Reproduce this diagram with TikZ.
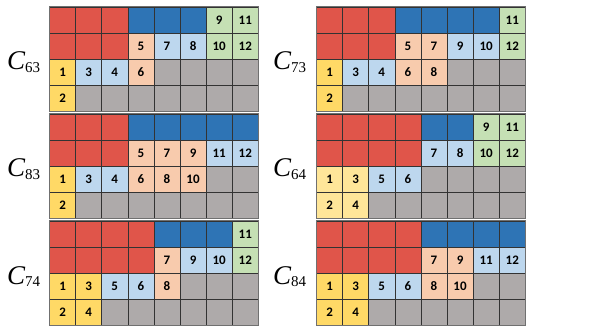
\documentclass[tikz,border=0pt]{standalone}
\usepackage{fontspec}
\newfontfamily\cellfont{Carlito}
\newfontfamily\labfont{Liberation Serif}
\definecolor{cR}{HTML}{E0554A}
\definecolor{cB}{HTML}{2E74B5}
\definecolor{cG}{HTML}{C5E0B4}
\definecolor{cL}{HTML}{BDD7EE}
\definecolor{cP}{HTML}{F8CBAD}
\definecolor{cY}{HTML}{FFD966}
\definecolor{cW}{HTML}{FFE699}
\definecolor{cN}{HTML}{AEAAAA}
\definecolor{cLine}{HTML}{333333}
\newcommand\cw{26.1}
\newcommand\ch{26}
\newcommand\cgrid[5]{%
  \foreach \rowspec [count=\ri] in {#5} {
    \foreach \ccol/\ctext [count=\ci] in \rowspec {
      \node[cellbox, fill=c\ccol] (#1-\ri-\ci) at ({#2+(\ci-0.5)*\cw}, {332-#3-(\ri-0.5)*\ch}) {\ctext};
    }
  }
  \draw[draw=cLine!70, line width=0.7pt] (#1-1-1.north west) rectangle (#1-4-8.south east);
}
\newcommand\clabel[4]{%
  \node[labbox] (#1) at (#2, {332-#3-63}) {\itshape C\upshape\fontsize{15}{15}\selectfont\raisebox{-2.5pt}{#4}};
}
\begin{document}
\begin{tikzpicture}[x=1pt, y=1pt,
  cellbox/.style={draw=cLine, line width=0.6pt, minimum width=\cw pt, minimum height=\ch pt, inner sep=0pt, anchor=center,
    font=\cellfont\bfseries\fontsize{13}{13}\selectfont},
  labbox/.style={anchor=base west, inner sep=0pt, font=\labfont\fontsize{27}{27}\selectfont}]
\useasboundingbox (0,0) rectangle (591,332);
% C63
\cgrid{ga}{49.5}{7}{}{{R/,R/,R/,B/,B/,B/,G/9,G/11},{R/,R/,R/,P/5,L/7,L/8,G/10,G/12},{Y/1,L/3,L/4,P/6,N/,N/,N/,N/},{Y/2,N/,N/,N/,N/,N/,N/,N/}}
\clabel{la}{7}{7}{63}
% C73
\cgrid{gb}{316.5}{7}{}{{R/,R/,R/,B/,B/,B/,B/,G/11},{R/,R/,R/,P/5,P/7,L/9,L/10,G/12},{Y/1,L/3,L/4,P/6,P/8,N/,N/,N/},{Y/2,N/,N/,N/,N/,N/,N/,N/}}
\clabel{lb}{273}{7}{73}
% C83
\cgrid{gc}{49.5}{114}{}{{R/,R/,R/,B/,B/,B/,B/,B/},{R/,R/,R/,P/5,P/7,P/9,L/11,L/12},{Y/1,L/3,L/4,P/6,P/8,P/10,N/,N/},{Y/2,N/,N/,N/,N/,N/,N/,N/}}
\clabel{lc}{7}{114}{83}
% C64
\cgrid{gd}{316.5}{114}{}{{R/,R/,R/,R/,B/,B/,G/9,G/11},{R/,R/,R/,R/,L/7,L/8,G/10,G/12},{W/1,W/3,L/5,L/6,N/,N/,N/,N/},{W/2,W/4,N/,N/,N/,N/,N/,N/}}
\clabel{ld}{273}{114}{64}
% C74
\cgrid{ge}{49.5}{221}{}{{R/,R/,R/,R/,B/,B/,B/,G/11},{R/,R/,R/,R/,P/7,L/9,L/10,G/12},{Y/1,Y/3,L/5,L/6,P/8,N/,N/,N/},{Y/2,Y/4,N/,N/,N/,N/,N/,N/}}
\clabel{le}{7}{221}{74}
% C84
\cgrid{gf}{316.5}{221}{}{{R/,R/,R/,R/,B/,B/,B/,B/},{R/,R/,R/,R/,P/7,P/9,L/11,L/12},{Y/1,Y/3,L/5,L/6,P/8,P/10,N/,N/},{Y/2,Y/4,N/,N/,N/,N/,N/,N/}}
\clabel{lf}{273}{221}{84}
\end{tikzpicture}
\end{document}
